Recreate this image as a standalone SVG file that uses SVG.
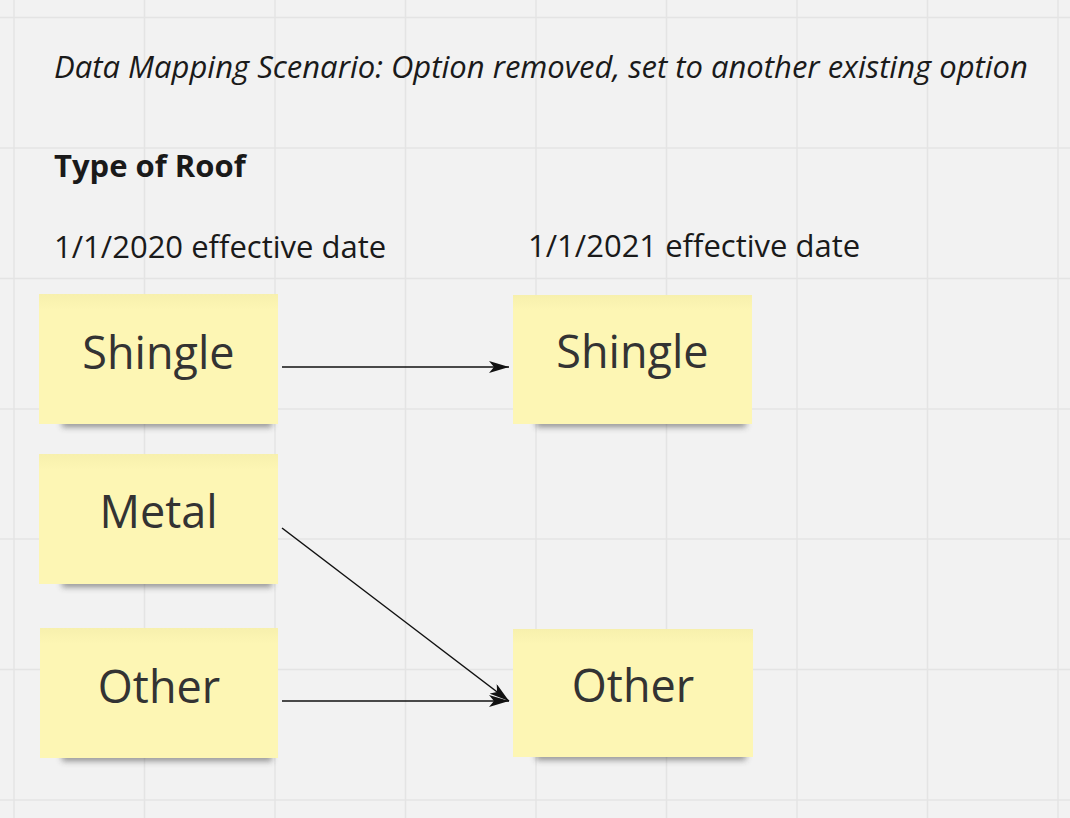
<svg xmlns="http://www.w3.org/2000/svg" width="1070" height="818" viewBox="0 0 1070 818">
<defs>
<style>
.grid{stroke:#e4e4e4;stroke-width:1.5}
.shadow{fill:#3a3a3a;opacity:0.55;filter:url(#blur)}
.nt{font-family:"Open Sans","Noto Sans","Liberation Sans",sans-serif;font-size:45px;fill:#333333;text-anchor:middle}
.hd{font-family:"Open Sans","Noto Sans","Liberation Sans",sans-serif;fill:#1a1a1a}
.conn{stroke:#111111;stroke-width:1.5;fill:none;marker-end:url(#arrow)}
</style>
<filter id="blur" x="-20%" y="-200%" width="140%" height="500%"><feGaussianBlur stdDeviation="3"/></filter>
<linearGradient id="ng" x1="0" y1="0" x2="0" y2="1">
<stop offset="0" stop-color="#f7f0ad"/>
<stop offset="0.12" stop-color="#fdf6b4"/>
<stop offset="1" stop-color="#fdf6b4"/>
</linearGradient>
<marker id="arrow" markerWidth="20" markerHeight="12" refX="20" refY="6" orient="auto" markerUnits="userSpaceOnUse">
<path d="M0,0 L20,6 L0,12 L5,6 Z" fill="#111111"/>
</marker>
</defs>
<rect width="1070" height="818" fill="#f2f2f2"/>
<g id="grid">
<line class="grid" x1="14" y1="0" x2="14" y2="818"/>
<line class="grid" x1="144.5" y1="0" x2="144.5" y2="818"/>
<line class="grid" x1="275" y1="0" x2="275" y2="818"/>
<line class="grid" x1="405.5" y1="0" x2="405.5" y2="818"/>
<line class="grid" x1="536" y1="0" x2="536" y2="818"/>
<line class="grid" x1="666.5" y1="0" x2="666.5" y2="818"/>
<line class="grid" x1="797" y1="0" x2="797" y2="818"/>
<line class="grid" x1="927.5" y1="0" x2="927.5" y2="818"/>
<line class="grid" x1="1058" y1="0" x2="1058" y2="818"/>
<line class="grid" x1="0" y1="17.5" x2="1070" y2="17.5"/>
<line class="grid" x1="0" y1="148" x2="1070" y2="148"/>
<line class="grid" x1="0" y1="278.5" x2="1070" y2="278.5"/>
<line class="grid" x1="0" y1="409" x2="1070" y2="409"/>
<line class="grid" x1="0" y1="539" x2="1070" y2="539"/>
<line class="grid" x1="0" y1="669.5" x2="1070" y2="669.5"/>
<line class="grid" x1="0" y1="800" x2="1070" y2="800"/>
</g>
<g id="title">
<text class="hd" x="54" y="78" font-size="31" font-style="italic">Data Mapping Scenario: Option removed, set to another existing option</text>
</g>
<g id="heading">
<text class="hd" x="54" y="177" font-size="31" font-weight="bold">Type of Roof</text>
</g>
<g id="date2020">
<text class="hd" x="54" y="258" font-size="31">1/1/2020 effective date</text>
</g>
<g id="date2021">
<text class="hd" x="528" y="257" font-size="31">1/1/2021 effective date</text>
</g>
<g id="shingle-left">
<rect class="shadow" x="62" y="419" width="210" height="8"/>
<rect x="39" y="294" width="239" height="130" fill="url(#ng)"/>
<text class="nt" x="158.5" y="369">Shingle</text>
</g>
<g id="metal-left">
<rect class="shadow" x="62" y="579" width="210" height="8"/>
<rect x="39" y="454" width="239" height="130" fill="url(#ng)"/>
<text class="nt" x="158.5" y="528">Metal</text>
</g>
<g id="other-left">
<rect class="shadow" x="62" y="753" width="210" height="8"/>
<rect x="40" y="628" width="238" height="130" fill="url(#ng)"/>
<text class="nt" x="159" y="703">Other</text>
</g>
<g id="shingle-right">
<rect class="shadow" x="536" y="419" width="210" height="8"/>
<rect x="513" y="295" width="239" height="129" fill="url(#ng)"/>
<text class="nt" x="632.5" y="368">Shingle</text>
</g>
<g id="other-right">
<rect class="shadow" x="536" y="752" width="210" height="8"/>
<rect x="513" y="629" width="240" height="128" fill="url(#ng)"/>
<text class="nt" x="633" y="702">Other</text>
</g>
<g id="connectors">
<line class="conn" x1="282" y1="367" x2="509" y2="367"/>
<line class="conn" x1="282" y1="528" x2="509" y2="701"/>
<line class="conn" x1="282" y1="701" x2="509" y2="701"/>
</g>
</svg>
